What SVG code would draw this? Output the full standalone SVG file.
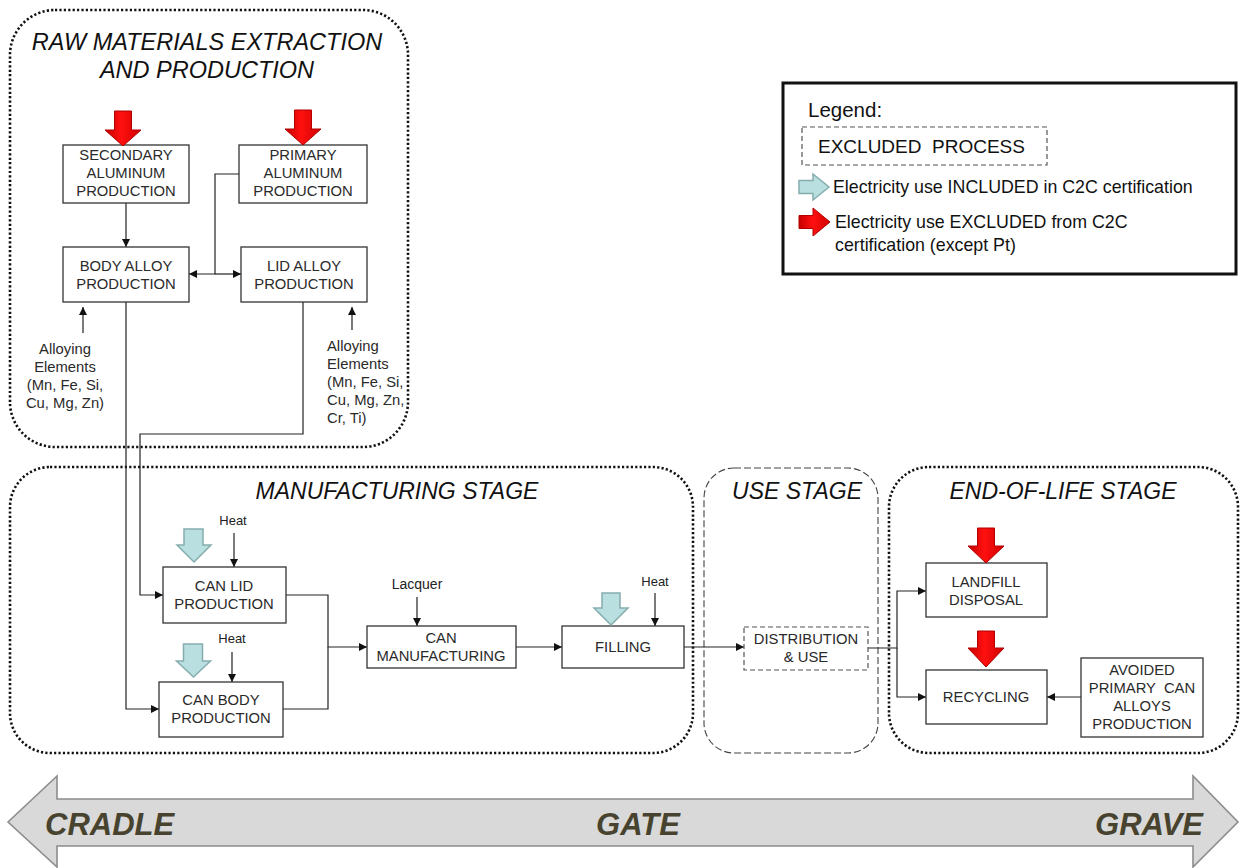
<svg xmlns="http://www.w3.org/2000/svg" width="1240" height="868" viewBox="0 0 1240 868">
  <defs>
    <marker id="arr" viewBox="0 0 8 8" refX="8" refY="4" markerWidth="8" markerHeight="8" markerUnits="userSpaceOnUse" orient="auto">
      <path d="M0,0 L8,4 L0,8 z" fill="#111"/>
    </marker>
    <linearGradient id="redg" x1="0" y1="0" x2="1" y2="0">
      <stop offset="0" stop-color="#c80000"/>
      <stop offset="0.45" stop-color="#ff1010"/>
      <stop offset="1" stop-color="#d00000"/>
    </linearGradient>
  </defs>
  <style>
    .stage { fill: none; stroke: #111; stroke-width: 2.6; stroke-dasharray: 2.2 2.2; }
    .stage-dash { fill: none; stroke: #444; stroke-width: 1.1; stroke-dasharray: 7 3; }
    .box { fill: #fff; stroke: #333; stroke-width: 1.3; }
    .box-dash { fill: #fff; stroke: #555; stroke-width: 1.2; stroke-dasharray: 5 3; }
    .title { font-family: "Liberation Sans", Arial, sans-serif; font-style: italic; font-size: 23px; fill: #111; text-anchor: middle; }
    .lbl { font-family: "Liberation Sans", Arial, sans-serif; font-size: 14.8px; fill: #2a2a2a; text-anchor: middle; }
    .lbl-left { font-family: "Liberation Sans", Arial, sans-serif; font-size: 14.8px; fill: #2a2a2a; text-anchor: start; }
    .small { font-family: "Liberation Sans", Arial, sans-serif; font-size: 13px; fill: #222; text-anchor: middle; }
    .conn path { fill: none; stroke: #222; stroke-width: 1.2; }
    .red { fill: url(#redg); stroke: #b00000; stroke-width: 1; }
    .blue { fill: #b9dfe1; stroke: #86adae; stroke-width: 1.5; }
    .leg { font-family: "Liberation Sans", Arial, sans-serif; fill: #111; }
    .band { font-family: "Liberation Sans", Arial, sans-serif; font-weight: bold; font-style: italic; font-size: 31px; fill: #47432e; }
  </style>

  <!-- stage containers -->
  <g id="stage-raw">
    <rect class="stage" x="10" y="10" width="398" height="437" rx="45"/>
    <text class="title" x="207" y="50" style="font-size:23.5px">RAW MATERIALS EXTRACTION</text>
    <text class="title" x="207" y="78" style="font-size:23.5px">AND PRODUCTION</text>
  </g>
  <g id="stage-manufacturing">
    <rect class="stage" x="10" y="467" width="683" height="286" rx="40"/>
    <text class="title" x="397" y="499">MANUFACTURING STAGE</text>
  </g>
  <g id="stage-use">
    <rect class="stage-dash" x="704" y="468" width="174" height="285" rx="30"/>
    <text class="title" x="797" y="499">USE STAGE</text>
  </g>
  <g id="stage-eol">
    <rect class="stage" x="889" y="467" width="349" height="286" rx="40"/>
    <text class="title" x="1063" y="499">END-OF-LIFE STAGE</text>
  </g>

  <!-- connectors -->
  <g id="connectors" class="conn">
    <path d="M126,203 V247" marker-end="url(#arr)"/>
    <path d="M239,174 H215 V274 H189" marker-end="url(#arr)"/>
    <path d="M215,274 H241" marker-end="url(#arr)"/>
    <path d="M83,333 V307" marker-end="url(#arr)"/>
    <path d="M352,330 V307" marker-end="url(#arr)"/>
    <path d="M126,302 V709 H159" marker-end="url(#arr)"/>
    <path d="M303,302 V434 H140 V595 H163" marker-end="url(#arr)"/>
    <path d="M234,533 V567" marker-end="url(#arr)"/>
    <path d="M232,652 V682" marker-end="url(#arr)"/>
    <path d="M286,595 H328 V647 H367" marker-end="url(#arr)"/>
    <path d="M283,709 H328 V647"/>
    <path d="M417,597 V626" marker-end="url(#arr)"/>
    <path d="M516,647 H562" marker-end="url(#arr)"/>
    <path d="M655,593 V626" marker-end="url(#arr)"/>
    <path d="M684,647 H744" marker-end="url(#arr)"/>
    <path d="M868,648 H897 V591 H926" marker-end="url(#arr)"/>
    <path d="M897,648 V697 H926" marker-end="url(#arr)"/>
    <path d="M1081,697 H1047" marker-end="url(#arr)"/>
  </g>

  <!-- raw materials nodes -->
  <g id="secondary-aluminum">
    <rect class="box" x="63" y="145" width="126" height="58"/>
    <text class="lbl" x="126" y="160">SECONDARY</text>
    <text class="lbl" x="126" y="178">ALUMINUM</text>
    <text class="lbl" x="126" y="196">PRODUCTION</text>
  </g>
  <g id="primary-aluminum">
    <rect class="box" x="239" y="145" width="128" height="58"/>
    <text class="lbl" x="303" y="160">PRIMARY</text>
    <text class="lbl" x="303" y="178">ALUMINUM</text>
    <text class="lbl" x="303" y="196">PRODUCTION</text>
  </g>
  <g id="body-alloy">
    <rect class="box" x="63" y="247" width="126" height="55"/>
    <text class="lbl" x="126" y="271">BODY ALLOY</text>
    <text class="lbl" x="126" y="289">PRODUCTION</text>
  </g>
  <g id="lid-alloy">
    <rect class="box" x="241" y="247" width="126" height="55"/>
    <text class="lbl" x="304" y="271">LID ALLOY</text>
    <text class="lbl" x="304" y="289">PRODUCTION</text>
  </g>
  <g id="alloying-body">
    <text class="lbl" x="65" y="354">Alloying</text>
    <text class="lbl" x="65" y="372">Elements</text>
    <text class="lbl" x="65" y="390">(Mn, Fe, Si,</text>
    <text class="lbl" x="65" y="408">Cu, Mg, Zn)</text>
  </g>
  <g id="alloying-lid">
    <text class="lbl-left" x="327" y="351">Alloying</text>
    <text class="lbl-left" x="327" y="369">Elements</text>
    <text class="lbl-left" x="327" y="387">(Mn, Fe, Si,</text>
    <text class="lbl-left" x="327" y="405">Cu, Mg, Zn,</text>
    <text class="lbl-left" x="327" y="423">Cr, Ti)</text>
  </g>

  <!-- manufacturing nodes -->
  <g id="can-lid">
    <rect class="box" x="163" y="567" width="123" height="56"/>
    <text class="lbl" x="224" y="591">CAN LID</text>
    <text class="lbl" x="224" y="609">PRODUCTION</text>
  </g>
  <g id="can-body">
    <rect class="box" x="159" y="682" width="124" height="55"/>
    <text class="lbl" x="221" y="705">CAN BODY</text>
    <text class="lbl" x="221" y="723">PRODUCTION</text>
  </g>
  <g id="can-manufacturing">
    <rect class="box" x="367" y="626" width="149" height="42"/>
    <text class="lbl" x="441" y="643">CAN</text>
    <text class="lbl" x="441" y="661">MANUFACTURING</text>
  </g>
  <g id="filling">
    <rect class="box" x="562" y="626" width="122" height="42"/>
    <text class="lbl" x="623" y="652">FILLING</text>
  </g>
  <g id="heat-lid"><text class="small" x="233" y="525">Heat</text></g>
  <g id="heat-body"><text class="small" x="232" y="643">Heat</text></g>
  <g id="lacquer"><text class="small" x="417" y="589" style="font-size:14px">Lacquer</text></g>
  <g id="heat-filling"><text class="small" x="655" y="586">Heat</text></g>

  <!-- use stage node -->
  <g id="distribution-use">
    <rect class="box-dash" x="744" y="627" width="124" height="43"/>
    <text class="lbl" x="806" y="644">DISTRIBUTION</text>
    <text class="lbl" x="806" y="662">&amp; USE</text>
  </g>

  <!-- end-of-life nodes -->
  <g id="landfill">
    <rect class="box" x="926" y="563" width="121" height="54"/>
    <text class="lbl" x="986" y="587">LANDFILL</text>
    <text class="lbl" x="986" y="605">DISPOSAL</text>
  </g>
  <g id="recycling">
    <rect class="box" x="926" y="670" width="121" height="54"/>
    <text class="lbl" x="986" y="702">RECYCLING</text>
  </g>
  <g id="avoided-primary">
    <rect class="box" x="1081" y="658" width="122" height="79"/>
    <text class="lbl" x="1142" y="675">AVOIDED</text>
    <text class="lbl" x="1142" y="693" style="white-space:pre">PRIMARY  CAN</text>
    <text class="lbl" x="1142" y="711">ALLOYS</text>
    <text class="lbl" x="1142" y="729">PRODUCTION</text>
  </g>

  <!-- electricity input arrows -->
  <g id="electricity-arrows">
    <polygon class="red" points="114.5,111 131.5,111 131.5,130 141,130 123,146 105,130 114.5,130"/>
    <polygon class="red" points="294.5,110 311.5,110 311.5,129 321,129 303,145 285,129 294.5,129"/>
    <polygon class="red" points="977.5,528 994.5,528 994.5,546 1004,546 986,563 968,546 977.5,546"/>
    <polygon class="red" points="977.5,631 994.5,631 994.5,648 1004,648 986,667 968,648 977.5,648"/>
    <polygon class="blue" points="184,529 203,529 203,545 211,545 194,562 177,545 184,545"/>
    <polygon class="blue" points="183.5,644 202.5,644 202.5,661 210.5,661 193.5,677 176.5,661 183.5,661"/>
    <polygon class="blue" points="602,593 620,593 620,608 628,608 611,625 594,608 602,608"/>
  </g>

  <!-- legend -->
  <g id="legend">
    <rect x="783" y="83" width="453" height="191" fill="#fff" stroke="#111" stroke-width="3"/>
    <text class="leg" x="808" y="117" font-size="20.5">Legend:</text>
    <rect class="box-dash" x="802" y="127" width="245" height="38"/>
    <text class="leg" x="818" y="153" font-size="19" style="white-space:pre">EXCLUDED  PROCESS</text>
    <polygon class="blue" points="799,180.5 813,180.5 813,174 829,187 813,200 813,193.5 799,193.5"/>
    <text class="leg" x="833" y="193" font-size="17.8">Electricity use INCLUDED in C2C certification</text>
    <polygon class="red" points="799,215.5 813,215.5 813,208 830,222 813,236 813,228.5 799,228.5"/>
    <text class="leg" x="835" y="228" font-size="17.8">Electricity use EXCLUDED from C2C</text>
    <text class="leg" x="835" y="251" font-size="17.8">certification (except Pt)</text>
  </g>

  <!-- cradle to grave band -->
  <g id="life-cycle-band">
    <polygon points="8,822 57,776 57,799 1193,799 1193,776 1238,822 1193,867 1193,846 57,846 57,867" fill="#d9d9d9" stroke="#8c8c8c" stroke-width="1.6"/>
    <text class="band" x="45" y="835">CRADLE</text>
    <text class="band" x="638" y="835" text-anchor="middle">GATE</text>
    <text class="band" x="1203" y="835" text-anchor="end">GRAVE</text>
  </g>
</svg>
